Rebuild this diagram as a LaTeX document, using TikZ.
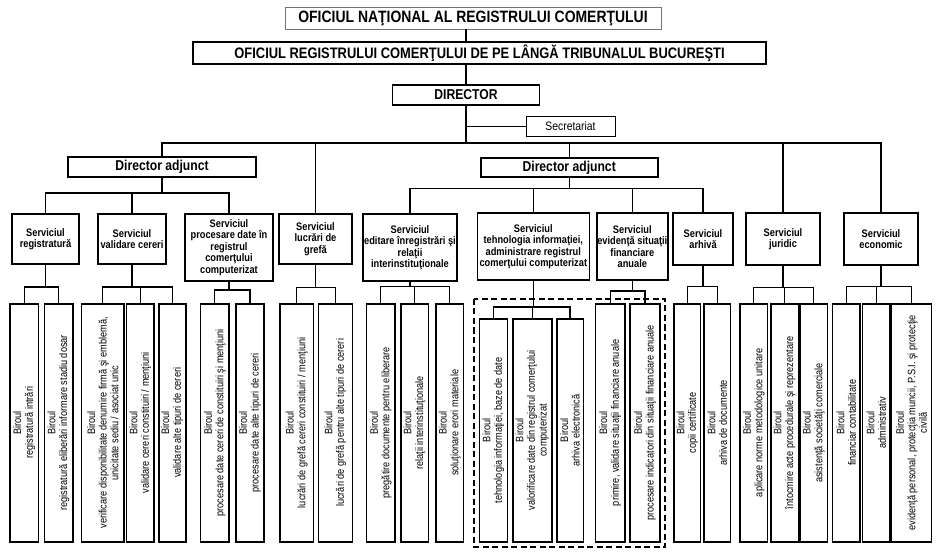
\documentclass[tikz,border=0pt]{standalone}
\usepackage{fontspec}
\setmainfont{Liberation Sans}[FakeStretch=0.85]
\usepackage{tikz}
\tikzstyle{cutie}=[draw, line width=1.6pt, inner sep=0pt, align=center]
\tikzstyle{titlu}=[draw=black!55, line width=0.8pt, inner sep=0pt, font=\fontsize{16.4}{18}\selectfont\bfseries]
\tikzstyle{oficiu}=[cutie, font=\fontsize{15.2}{17}\selectfont\bfseries]
\tikzstyle{sef}=[cutie, font=\fontsize{14.3}{16}\selectfont\bfseries]
\tikzstyle{secr}=[cutie, line width=1pt, font=\fontsize{12.2}{14}\selectfont]
\tikzstyle{serviciu}=[cutie, font=\fontsize{10.9}{11.5}\selectfont\bfseries]
\tikzstyle{birou}=[cutie, rotate=90, font=\fontsize{10.8}{11.6}\selectfont]
\tikzstyle{linie}=[line width=1.3pt]
\tikzstyle{grupa}=[line width=1.3pt, dash pattern=on 6pt off 3.5pt]

\begin{document}
\begin{tikzpicture}[x=1pt, y=-1pt]
	\useasboundingbox (0,0) rectangle (937,553);
	% conducere
	\node[titlu, minimum width=376, minimum height=22] (t1) at (473,18) {OFICIUL NAŢIONAL AL REGISTRULUI COMERŢULUI};
	\node[oficiu, minimum width=573, minimum height=22] (t2) at (479.5,53) {OFICIUL REGISTRULUI COMERŢULUI DE PE LÂNGĂ TRIBUNALUL BUCUREŞTI};
	\node[sef, minimum width=147, minimum height=20] (dir) at (466,95) {DIRECTOR};
	\node[secr, minimum width=89, minimum height=20] (sec) at (570.5,126.5) {Secretariat};
	\node[sef, minimum width=188, minimum height=20] (da1) at (162,167) {Director adjunct};
	\node[sef, minimum width=177, minimum height=19] (da2) at (569.2,167.5) {Director adjunct};
	\coordinate (magistrala) at (0,143);
	% servicii
	\foreach \nm/\x/\y/\w/\h/\txt in {
		s1/45.5/239/67/50/{Serviciul\\registratură},
		s2/132/239/68/50/{Serviciul\\validare cereri},
		s3/229/247.5/88/67/{Serviciul\\procesare date în\\registrul\\comerţului\\computerizat},
		s4/315.5/239/73/50/{Serviciul\\lucrări de\\grefă},
		s5/410/247.5/94/67/{Serviciul\\editare înregistrări şi\\relaţii\\interinstituţionale},
		s6/533.3/246.5/112/67/{Serviciul\\tehnologia informaţiei,\\administrare registrul\\comerţului computerizat},
		s7/632.3/246.5/71/67/{Serviciul\\evidenţă situaţii\\financiare\\anuale},
		s8/703/239/60/52/{Serviciul\\arhivă},
		s9/783/239/74/52/{Serviciul\\juridic},
		s10/881/239/74/52/{Serviciul\\economic}}
		\node[serviciu, minimum width=\w, minimum height=\h] (\nm) at (\x,\y) {\txt};
	% birouri
	\foreach \nm/\x/\w/\sus/\txt in {
		b1/24.2/28.3/304/{registratură intrări},
		b2/58.5/28.4/304/{registratură eliberări informare stadiu dosar},
		b3/102.8/42.3/304/{verificare disponibilitate denumire firmă şi emblemă,\\unicitate sediu / asociat unic},
		b4/140.3/27.3/304/{validare cereri constituiri / menţiuni},
		b5/172.2/27/304/{validare alte tipuri de cereri},
		b6/214.8/28.5/304/{procesare date cereri de constituiri şi menţiuni},
		b7/250/28/304/{procesare date alte tipuri de cereri},
		b8/296.7/33.3/304/{lucrări de grefă cereri constituiri / menţiuni},
		b9/335.3/34/304/{lucrări de grefă pentru alte tipuri de cereri},
		b10/380.8/28.3/304/{pregătire documente pentru eliberare},
		b11/414.5/27.6/304/{relaţii interinstituţionale},
		b12/449.7/27.3/304/{soluţionare erori materiale},
		b13/493.3/28/319/{tehnologia informaţiei, baze de date},
		b14/532.2/39/319/{valorificare date din registrul comerţului\\computerizat},
		b15/570/26.6/319/{arhiva electronică},
		b16/610.2/29.5/304/{primire, validare situaţii financiare anuale},
		b17/645/30/304/{procesare indicatori din situaţii financiare anuale},
		b18/687.3/26.7/304/{copii certificate},
		b19/717.3/26.7/304/{arhiva de documente},
		b20/753.8/27.7/304/{aplicare norme metodologice unitare},
		b21/784.5/27.6/304/{întocmire acte procedurale şi reprezentare},
		b22/813.7/27.3/304/{asistenţă societăţi comerciale},
		b23/846.3/27.3/304/{financiar contabilitate},
		b24/876.2/27.5/304/{administrativ},
		b25/911.5/40/304/{evidenţă personal, protecţia muncii, P.S.I. şi protecţie\\civilă}}
		\node[birou, minimum width={541.7-\sus}, minimum height=\w] (\nm) at (\x,{(\sus+541.7)/2}) {Biroul\\\txt};
	% legaturi
	\draw[linie] (t1.south -| dir.south) -- (t2.north -| dir.south);
	\draw[linie] (t2.south -| dir.south) -- (dir.north);
	\draw[linie] (dir.south) -- (dir.south |- magistrala);
	\draw[linie] (dir.south |- sec.west) -- (sec.west);
	\foreach \c in {da1, s4, da2, s9, s10}
		\draw[linie] (dir.south |- magistrala) -| (\c);
	\foreach \p/\y/\kids in {da1/193/{s1,s2,s3}, da2/188.5/{s5,s6,s7,s8},
		s1/287/{b1,b2}, s2/287/{b3,b4,b5}, s3/290/{b6,b7}, s4/287.3/{b8,b9},
		s5/286.7/{b10,b11,b12}, s6/307/{b13,b14,b15}, s7/291/{b16,b17},
		s8/286.7/{b18,b19}, s9/287.3/{b20,b21,b22}, s10/286.7/{b23,b24,b25}}
		\foreach \k in \kids
			\draw[linie] (\p.south) -- (\p.south |- 0,\y) -| (\k);
	% grupa IT
	\draw[grupa] (474,299) rectangle (665,547);
\end{tikzpicture}
\end{document}
